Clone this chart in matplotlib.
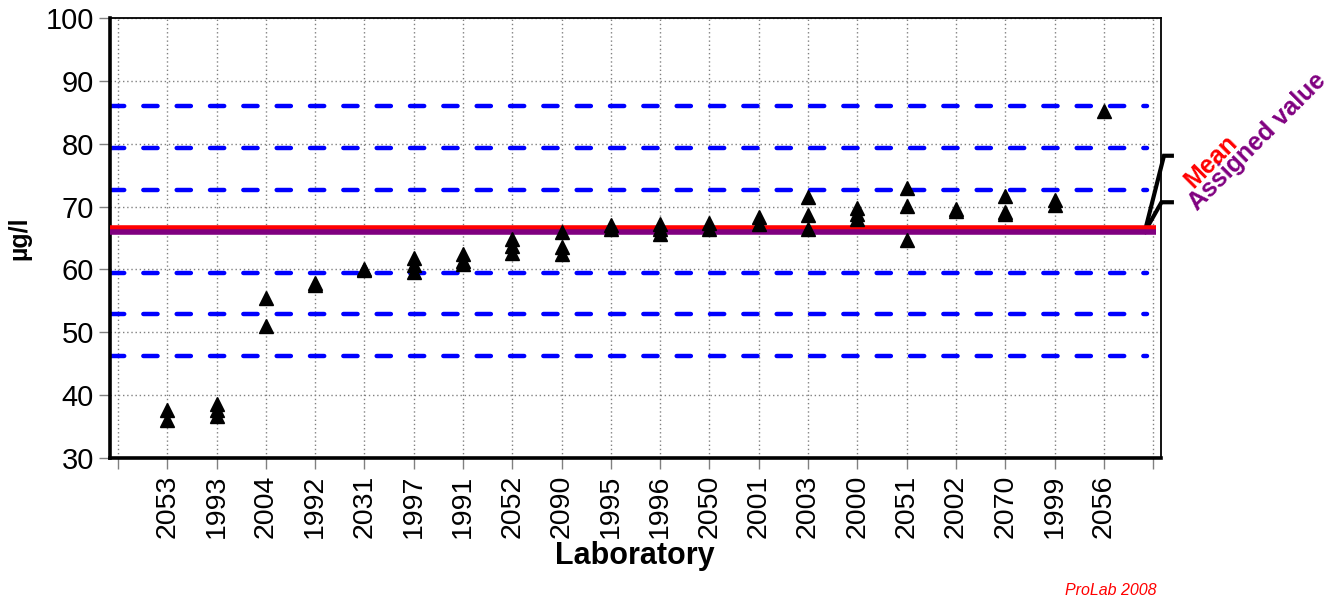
import matplotlib.pyplot as plt
import numpy as np

plt.rcParams['font.family'] = ['Liberation Sans', 'DejaVu Sans']

labs = ['2053', '1993', '2004', '1992', '2031', '1997', '1991', '2052', '2090', '1995',
        '1996', '2050', '2001', '2003', '2000', '2051', '2002', '2070', '1999', '2056']
results = [
    [37.7, 36.0],
    [38.6, 37.6, 36.7],
    [55.4, 51.0],
    [57.8, 57.5],
    [60.0, 59.9],
    [61.9, 60.7, 59.6],
    [62.5, 61.4, 60.8],
    [64.8, 63.7, 62.7],
    [66.0, 63.5, 62.4],
    [67.1, 66.4],
    [67.3, 66.5, 65.6],
    [67.4, 66.5],
    [68.3, 67.2],
    [71.6, 68.6, 66.5],
    [69.8, 68.9, 68.1],
    [73.0, 70.1, 64.7],
    [69.6, 69.3],
    [71.7, 69.1, 68.8],
    [71.0, 70.2],
    [85.2],
]
mean_value = 66.55
assigned_value = 66.0
limit_lines = [46.2, 52.9, 59.5, 72.6, 79.3, 86.0]

fig = plt.figure(figsize=(13.37, 6.05), dpi=100)
ax = fig.add_axes([0.0823, 0.243, 0.7857, 0.727])

n = len(labs)
ax.set_xlim(-0.16, n + 1.15)
ax.set_ylim(30, 100)

# dotted grid
ax.set_xticks(np.arange(0, n + 2))
ax.set_xticklabels([''] + labs + [''], rotation=90, fontsize=20.5)
ax.set_yticks(np.arange(30, 101, 10))
ax.tick_params(axis='y', labelsize=21, length=8, width=1, color='#808080')
ax.tick_params(axis='x', length=8, width=1, color='#808080', pad=4)
ax.grid(True, color='#808080', linestyle=(0, (1, 2)), linewidth=1)
ax.set_axisbelow(True)

# limit lines
for y in limit_lines:
    ax.hlines(y, -0.16, n + 0.88, colors='#0000ff', linewidth=3.2,
              linestyles=(0, (3.2, 4.3)), capstyle='round', zorder=2)
ax.hlines(mean_value, -0.16, n + 1.05, colors='#ff0000', linewidth=4, zorder=3)
ax.hlines(assigned_value, -0.16, n + 1.05, colors='#800080', linewidth=4, zorder=3)

# results per laboratory
for i, vals in enumerate(results):
    ax.plot([i + 1] * len(vals), vals, linestyle='none', marker='^', color='black',
            markersize=10, zorder=4)

for side in ['left', 'bottom']:
    ax.spines[side].set_linewidth(2.6)
for side in ['top', 'right']:
    ax.spines[side].set_linewidth(1.3)

ax.set_xlabel('Laboratory', fontsize=22, fontweight='bold', labelpad=2)
ax.set_ylabel('µg/l', fontsize=18, fontweight='bold', labelpad=10)

# labels for mean and assigned value
x0, x1, x2 = n + 0.83, n + 1.22, n + 1.38
ax.plot([x0, x1, x2], [assigned_value, 78.1, 78.1], color='black', linewidth=3,
        clip_on=False, solid_joinstyle='miter')
ax.plot([x0, x1 - 0.05, x2], [assigned_value, 70.7, 70.7], color='black', linewidth=3,
        clip_on=False, solid_joinstyle='miter')
ax.text(n + 1.82, 72.8, 'Mean', color='#ff0000', fontsize=18, fontweight='bold',
        rotation=45, rotation_mode='anchor', ha='left', va='baseline', clip_on=False)
ax.text(n + 1.90, 69.2, 'Assigned value', color='#800080', fontsize=18, fontweight='bold',
        rotation=45, rotation_mode='anchor', ha='left', va='baseline', clip_on=False)

fig.text(0.865, 0.012, 'ProLab 2008', color='#ff0000', fontsize=11.5, style='italic',
         ha='right', va='bottom')

fig.savefig('out.png', dpi=100)
